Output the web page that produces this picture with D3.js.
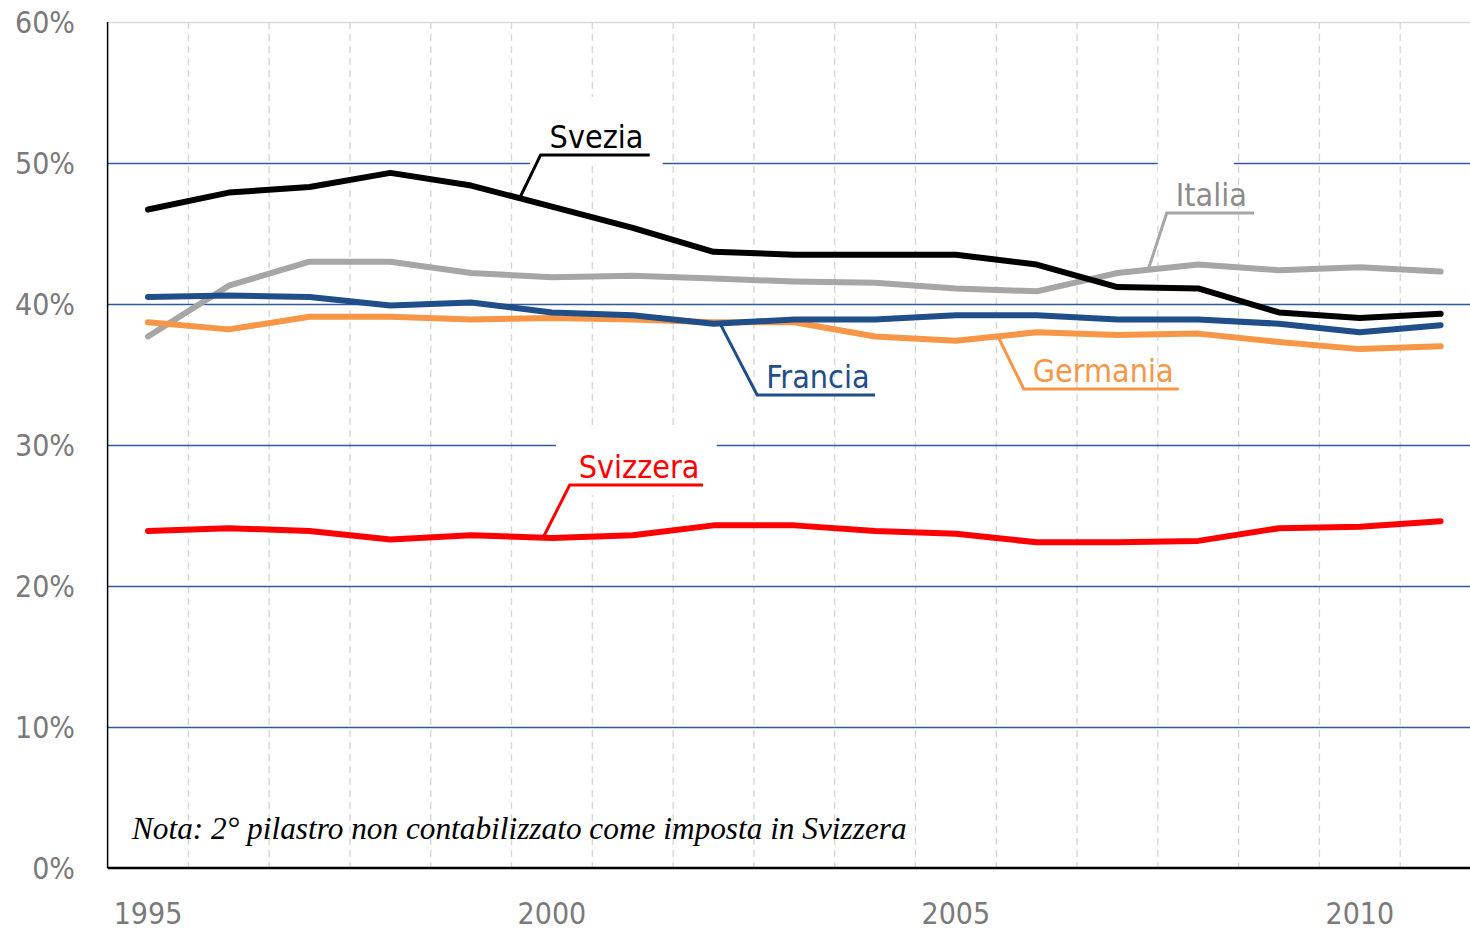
<!DOCTYPE html>
<html>
<head>
<meta charset="utf-8">
<script src="https://cdn.jsdelivr.net/npm/d3@7"></script>
<style>
  body { margin: 0; background: #fff; }
  svg { display: block; }
</style>
</head>
<body>
<script>
// anni e quote (% del PIL)
var years = d3.range(1995, 2012);
var svezia    = [46.7, 47.9, 48.3, 49.3, 48.4, 46.9, 45.4, 43.7, 43.5, 43.5, 43.5, 42.8, 41.2, 41.1, 39.4, 39.0, 39.3];
var italia    = [37.7, 41.3, 43.0, 43.0, 42.2, 41.9, 42.0, 41.8, 41.6, 41.5, 41.1, 40.9, 42.2, 42.8, 42.4, 42.6, 42.3];
var francia   = [40.5, 40.6, 40.5, 39.9, 40.1, 39.4, 39.2, 38.6, 38.9, 38.9, 39.2, 39.2, 38.9, 38.9, 38.6, 38.0, 38.5];
var germania  = [38.7, 38.2, 39.1, 39.1, 38.9, 39.0, 38.9, 38.7, 38.7, 37.7, 37.4, 38.0, 37.8, 37.9, 37.3, 36.8, 37.0];
var svizzera  = [23.9, 24.1, 23.9, 23.3, 23.6, 23.4, 23.6, 24.3, 24.3, 23.9, 23.7, 23.1, 23.1, 23.2, 24.1, 24.2, 24.6];
var yTicks = [0, 10, 20, 30, 40, 50, 60];
var xTicks = [1995, 2000, 2005, 2010];

// etichette: anno del punto di aggancio e posizione del testo (in unità dati)
var labels = [
  { name: "Svezia",   data: svezia,   color: "#000000", textColor: "#000000", at: 1999.6,  lx: 1999.86, ly: 50.57, len: 1.35, box: [1999.73, 2001.37] },
  { name: "Italia",   data: italia,   color: "#a6a6a6", textColor: "#8c8c8c", at: 2007.38, lx: 2007.61, ly: 46.45, len: 1.08, box: [2007.5, 2008.44] },
  { name: "Francia",  data: francia,  color: "#1f4e89", textColor: "#1f4e89", at: 2002.08, lx: 2002.54, ly: 33.55, len: 1.46 },
  { name: "Germania", data: germania, color: "#f79646", textColor: "#f79646", at: 2005.52, lx: 2005.84, ly: 33.97, len: 1.92 },
  { name: "Svizzera", data: svizzera, color: "#ff0000", textColor: "#ff0000", at: 1999.89, lx: 2000.22, ly: 27.16, len: 1.65, box: [2000.05, 2002.04] }
];

var width = 1470, height = 930;
var svg = d3.select("body").append("svg")
  .attr("width", width)
  .attr("height", height);

var x = d3.scaleLinear().domain([1994.5, 2011.5]).range([107.6, 1481]);
var y = d3.scaleLinear().domain([0, 60]).range([868, 22]);

// griglia verticale tratteggiata
svg.append("g").selectAll("line")
  .data(d3.range(1995.5, 2011, 1))
  .enter().append("line")
  .attr("x1", function(d) { return x(d); })
  .attr("x2", function(d) { return x(d); })
  .attr("y1", y(60))
  .attr("y2", y(0))
  .attr("stroke", "#d4d4d4")
  .attr("stroke-width", 1.3)
  .attr("stroke-dasharray", "7,5");

// griglia orizzontale
svg.append("g").selectAll("line")
  .data(yTicks.filter(function(d) { return d > 0; }))
  .enter().append("line")
  .attr("x1", x(1994.5))
  .attr("x2", width)
  .attr("y1", function(d) { return y(d) + 0.5; })
  .attr("y2", function(d) { return y(d) + 0.5; })
  .attr("stroke", function(d) { return d == 60 ? "#d9d9d9" : "#2f5b9b"; })
  .attr("stroke-width", function(d) { return d == 60 ? 1.5 : 1.4; });

// riquadri bianchi dietro alcune etichette
labels.filter(function(l) { return l.box; }).forEach(function(l) {
  svg.append("rect")
    .attr("x", x(l.box[0]))
    .attr("width", x(l.box[1]) - x(l.box[0]))
    .attr("y", y(l.ly) - 58)
    .attr("height", 68)
    .attr("fill", "#fff");
});

// assi
svg.append("line")
  .attr("x1", x(1994.5)).attr("x2", x(1994.5))
  .attr("y1", y(60)).attr("y2", y(0))
  .attr("stroke", "#000").attr("stroke-width", 1.5);
svg.append("line")
  .attr("x1", x(1994.5)).attr("x2", width)
  .attr("y1", y(0)).attr("y2", y(0))
  .attr("stroke", "#000").attr("stroke-width", 2.5);

// etichette assi
svg.append("g").selectAll("text")
  .data(yTicks)
  .enter().append("text")
  .attr("x", 75)
  .attr("y", function(d) { return y(d) + 11; })
  .attr("text-anchor", "end")
  .attr("font-family", "DejaVu Sans Condensed")
  .attr("font-size", 30)
  .attr("fill", "#7a7a7a")
  .text(function(d) { return d + "%"; });

svg.append("g").selectAll("text")
  .data(xTicks)
  .enter().append("text")
  .attr("x", function(d) { return x(d); })
  .attr("y", 924)
  .attr("text-anchor", "middle")
  .attr("font-family", "DejaVu Sans Condensed")
  .attr("font-size", 30)
  .attr("fill", "#7a7a7a")
  .text(function(d) { return d; });

// linee
var line = d3.line()
  .x(function(d, i) { return x(years[i]); })
  .y(function(d) { return y(d); });

[italia, germania, francia, svezia, svizzera].forEach(function(s) {
  var l = labels.filter(function(l) { return l.data === s; })[0];
  svg.append("path")
    .datum(s)
    .attr("d", line)
    .attr("fill", "none")
    .attr("stroke", l.color)
    .attr("stroke-width", 6)
    .attr("stroke-linejoin", "round")
    .attr("stroke-linecap", "round");
});

// richiami etichette
labels.forEach(function(l) {
  var i = Math.floor(l.at - 1995), t = l.at - 1995 - i;
  var v = l.data[i] + (l.data[i + 1] - l.data[i]) * t;
  svg.append("polyline")
    .attr("points", [[x(l.at), y(v)], [x(l.lx), y(l.ly)], [x(l.lx + l.len), y(l.ly)]].join(" "))
    .attr("fill", "none")
    .attr("stroke", l.color)
    .attr("stroke-width", 3);
  svg.append("text")
    .attr("x", x(l.lx) + 9)
    .attr("y", y(l.ly) - 7)
    .attr("font-family", "DejaVu Sans Condensed")
    .attr("font-size", 32)
    .attr("fill", l.textColor)
    .text(l.name);
});

// nota
svg.append("text")
  .attr("x", 132)
  .attr("y", 839)
  .attr("font-family", "Liberation Serif")
  .attr("font-style", "italic")
  .attr("font-size", 31.3)
  .attr("fill", "#000")
  .text("Nota: 2° pilastro non contabilizzato come imposta in Svizzera");
</script>
</body>
</html>
